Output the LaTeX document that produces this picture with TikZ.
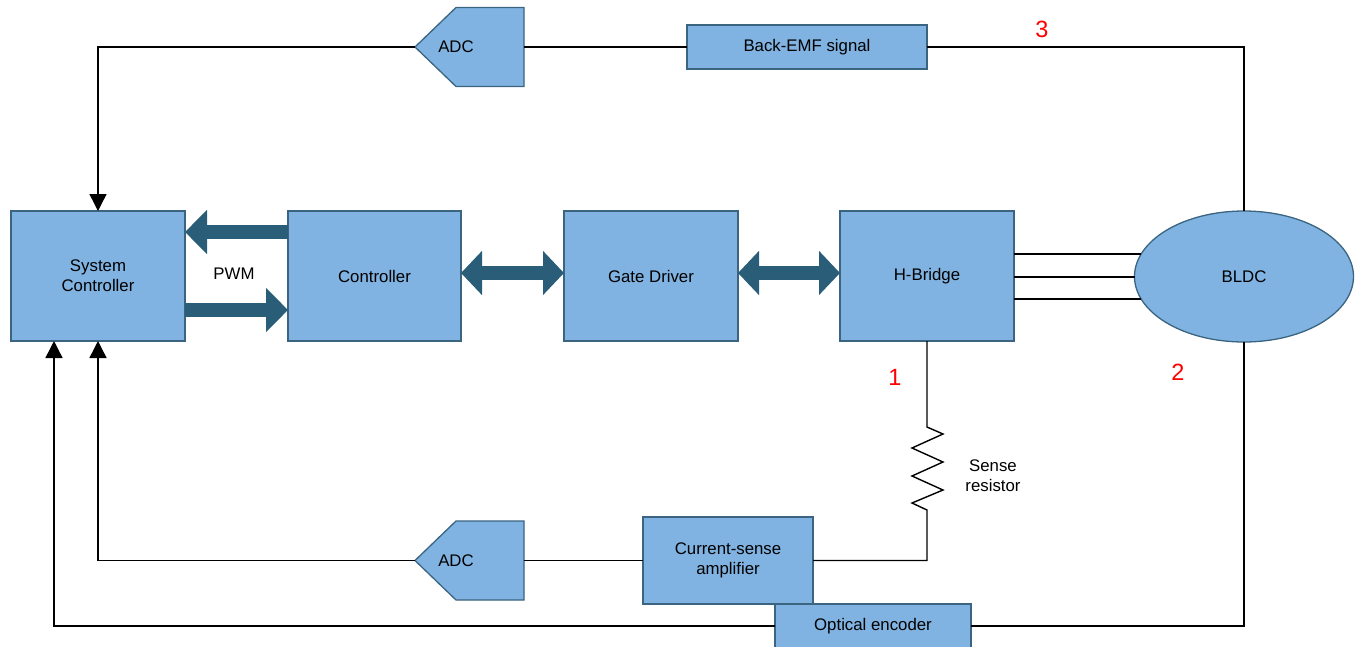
\documentclass[tikz,border=0pt]{standalone}
\usepackage{fontspec}
\setmainfont{Liberation Sans}
\usetikzlibrary{arrows.meta,shapes.geometric}
\definecolor{boxfill}{RGB}{128,179,225}
\definecolor{boxdraw}{RGB}{58,100,128}
\definecolor{fatarrow}{RGB}{42,94,120}
\begin{document}
\begin{tikzpicture}[x=1pt,y=-1pt,
  every node/.style={font=\fontsize{16.8}{20}\selectfont},
  blk/.style={draw=boxdraw, fill=boxfill, line width=1.3pt, inner sep=0pt, outer sep=0pt, align=center},
  mainbox/.style={blk, minimum width=174pt, minimum height=130pt},
  ghost/.style={inner sep=0pt, outer sep=0pt, minimum width=109pt, minimum height=79pt},
  adcshape/.style={draw=boxdraw, fill=boxfill, line width=1.3pt, line join=miter},
  wire/.style={draw=black, line width=1.4pt},
  arr/.style={wire, -{Triangle[length=17pt,width=17pt]}},
  fat/.style={draw=fatarrow, line width=14pt, -{Triangle[length=22pt,width=43pt]}},
  fatboth/.style={draw=fatarrow, line width=14pt, {Triangle[length=21pt,width=43pt]}-{Triangle[length=21pt,width=43pt]}},
  num/.style={text=red, font=\fontsize{23.5}{26}\selectfont},
  plain/.style={align=center, inner sep=0pt}]
\useasboundingbox (0,0) rectangle (1355,646);

% main row
\node[mainbox] (sys) at (98,276) {System\\Controller};
\node[mainbox, minimum width=173pt] (ctrl) at (374.5,276) {Controller};
\node[mainbox] (gd) at (651,276) {Gate Driver};
\node[mainbox] (hb) at (927,276) {H-Bridge};
\node[blk, ellipse, minimum width=219pt, minimum height=131pt] (bldc) at (1244,276.5) {BLDC};

% top feedback
\node[blk, minimum width=240pt, minimum height=44pt] (bemf) at (807,47) {Back-EMF signal};
\node[ghost] (adc1) at (469.5,47) {};
\draw[adcshape] (adc1.west) -- ([xshift=41pt]adc1.north west) -- (adc1.north east) -- (adc1.south east) -- ([xshift=41pt]adc1.south west) -- cycle;
\node[plain] (adc1t) at (456,47) {ADC};

% bottom feedback
\node[blk, minimum width=170pt, minimum height=87pt] (amp) at (728,560.5) {Current-sense\\amplifier};
\node[ghost] (adc2) at (469.5,560.5) {};
\draw[adcshape] (adc2.west) -- ([xshift=41pt]adc2.north west) -- (adc2.north east) -- (adc2.south east) -- ([xshift=41pt]adc2.south west) -- cycle;
\node[plain] (adc2t) at (456,560.5) {ADC};
\node[blk, minimum width=196pt, minimum height=44pt] (enc) at (873,626) {Optical encoder};

% fat arrows
\draw[fat] ([yshift=44pt]ctrl.west) -- ([yshift=44pt]sys.east);
\draw[fat] ([yshift=-34pt]sys.east) -- ([yshift=-34pt]ctrl.west);
\node[plain] (pwm) at (234,274) {PWM};
\draw[fatboth] ([yshift=3pt]ctrl.east) -- ([yshift=3pt]gd.west);
\draw[fatboth] ([yshift=3pt]gd.east) -- ([yshift=3pt]hb.west);

% three phase lines
\draw[wire] ([yshift=22pt]hb.east) -- ([yshift=22.5pt,xshift=6.7pt]bldc.west);
\draw[wire] ([yshift=-1pt]hb.east) -- ([yshift=-0.5pt]bldc.west);
\draw[wire] ([yshift=-23pt]hb.east) -- ([yshift=-22.5pt,xshift=6.7pt]bldc.west);

% top loop
\draw[wire] (bldc.north) |- (bemf.east);
\draw[wire] (bemf.west) -- (adc1.east);
\draw[arr] (adc1.west) -| (sys.north);

% sense resistor loop
\draw[wire, line join=miter] (hb.south) -- (927,427) -- (943,434) -- (912,448) -- (943,462) -- (912,476) -- (943,490) -- (912,503) -- (927,510) |- (amp.east);
\node[plain] (senselbl) at (993,476) {Sense\\resistor};
\draw[wire] (amp.west) -- (adc2.east);
\draw[arr] (adc2.west) -| (sys.south);

% encoder loop
\draw[wire] (bldc.south) |- (enc.east);
\draw[arr] (enc.west) -| ([xshift=-44pt]sys.south);

% numbers
\node[num] (n1) at (895,377) {1};
\node[num] (n2) at (1178,372) {2};
\node[num] (n3) at (1042,29) {3};
\end{tikzpicture}
\end{document}
